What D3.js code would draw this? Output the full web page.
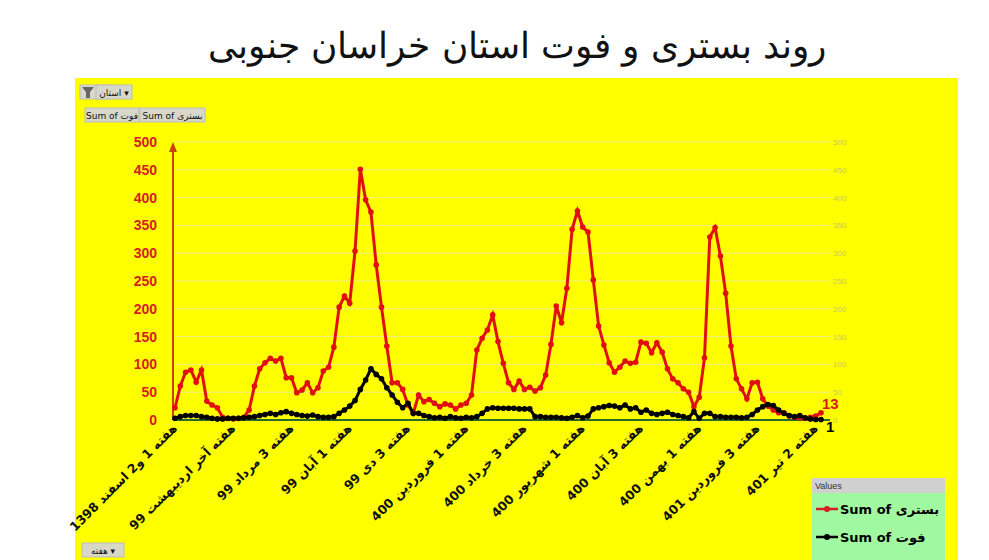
<!DOCTYPE html>
<html><head><meta charset="utf-8">
<script src="https://cdn.jsdelivr.net/npm/d3@7/dist/d3.min.js"></script>
<style>body{margin:0;background:#fff;}</style></head>
<body><svg id="c" width="989" height="560"></svg>
<script>
const title = "روند بستری و فوت استان خراسان جنوبی";
const hospital = [22,61,86,90,68,90,34,27,22,5,3,2,3,5,
18,61,92,103,111,106,111,76,76,49,54,67,49,58,88,95,131,203,223,210,304,451,396,374,279,203,133,67,67,55,27,12,45,33,37,30,24,29,27,20,27,30,45,126,147,162,189,141,102,
67,55,70,55,59,52,58,81,136,205,175,237,343,376,347,338,252,169,135,103,86,95,106,102,104,140,138,121,139,122,92,74,67,56,50,24,41,112,329,346,295,228,133,74,56,38,67,68,38,25,18,13,13,7,5,4,3,5,7,13];
const deaths = [3,6,8,8,8,6,5,3,2,2,3,3,3,4,
5,6,8,10,12,10,13,15,12,10,8,7,9,6,5,5,6,12,18,25,35,55,72,92,82,74,58,45,32,22,30,12,12,8,6,4,5,3,6,4,3,5,4,6,12,20,22,21,21,
21,21,20,20,20,6,6,5,5,5,4,3,5,8,4,7,20,22,24,26,25,22,27,20,22,14,18,12,10,12,14,10,8,6,4,15,3,12,12,6,6,5,5,5,4,5,10,18,24,28,26,18,12,8,6,8,4,2,1,1];
const xLabels = ["هفته 1 و2 اسفند 1398","هفته آخر اردیبهشت 99","هفته 3 مرداد 99","هفته 1 آبان 99","هفته 3 دی 99","هفته 1 فروردین 400","هفته 3 خرداد 400","هفته 1 شهریور 400","هفته 3 آبان 400","هفته 1 بهمن 400","هفته 3 فروردین 401","هفته 2 تیر 401"];
const yTicks = [0,50,100,150,200,250,300,350,400,450,500];

const svg = d3.select("#c");
svg.append("text").attr("x",517).attr("y",58).attr("text-anchor","middle")
  .attr("font-family","DejaVu Serif").attr("font-size",36).attr("fill","#111").text(title);
svg.append("rect").attr("x",75).attr("y",78).attr("width",883).attr("height",482).attr("fill","#ffff00");

const n = hospital.length;
const x = d3.scaleLinear().domain([0,n-1]).range([175,821]);
const y = d3.scaleLinear().domain([0,500]).range([420,142]);

svg.append("g").selectAll("line").data(yTicks.slice(1)).join("line")
  .attr("x1",175).attr("x2",830).attr("y1",d=>y(d)).attr("y2",d=>y(d))
  .attr("stroke","#eeee88").attr("stroke-width",1);
svg.append("g").selectAll("text").data(yTicks).join("text")
  .attr("x",157).attr("y",d=>y(d)+5).attr("text-anchor","end")
  .attr("font-family","Liberation Sans").attr("font-weight","bold").attr("font-size",14)
  .attr("fill","#d42020").text(d=>d);
svg.append("g").selectAll("text").data(yTicks).join("text")
  .attr("x",833).attr("y",d=>y(d)+3).attr("font-family","Liberation Sans").attr("font-size",8)
  .attr("fill","#c8c860").text(d=>d);
svg.append("line").attr("x1",173).attr("x2",173).attr("y1",420).attr("y2",146).attr("stroke","#c84010").attr("stroke-width",2);
svg.append("path").attr("d","M169,152L173,142L177,152Z").attr("fill","#c84010");
svg.append("line").attr("x1",173).attr("x2",830).attr("y1",420).attr("y2",420).attr("stroke","#2a6a2a").attr("stroke-width",2);

const line = d3.line().x((d,i)=>x(i)).y(d=>y(d));
function series(data,color){
  svg.append("path").datum(data).attr("d",line).attr("fill","none").attr("stroke",color).attr("stroke-width",3);
  svg.append("g").selectAll("circle").data(data).join("circle")
    .attr("cx",(d,i)=>x(i)).attr("cy",d=>y(d)).attr("r",2.8).attr("fill",color);
}
series(hospital,"#e01010");
series(deaths,"#000");
svg.append("text").attr("x",822).attr("y",409).attr("font-family","Liberation Sans").attr("font-weight","bold")
  .attr("font-size",15).attr("fill","#d42020").text(hospital[n-1]);
svg.append("text").attr("x",826).attr("y",432).attr("font-family","Liberation Sans").attr("font-weight","bold")
  .attr("font-size",15).attr("fill","#000").text(deaths[n-1]);

svg.append("g").selectAll("text").data(xLabels).join("text")
  .attr("transform",(d,i)=>`translate(${x(i*11)+3},${429}) rotate(-45)`)
  .attr("text-anchor","end").attr("direction","ltr")
  .attr("font-family","DejaVu Sans").attr("font-weight","bold").attr("font-size",12.5)
  .attr("fill","#111").text(d=>d);

function btn(bx,by,w,label){
  svg.append("rect").attr("x",bx).attr("y",by).attr("width",w).attr("height",14).attr("fill","#d8d8c8").attr("stroke","#bbb");
  svg.append("text").attr("x",bx+w/2).attr("y",by+10.5).attr("text-anchor","middle")
    .attr("font-family","DejaVu Sans").attr("font-size",9).attr("fill","#111").text(label);
}
btn(80,85,30,"");
svg.append("path").attr("d","M82,87L94,87L90,92L90,98L86,98L86,92Z").attr("fill","#666");
btn(96,85,36,"استان ▾");
btn(85,108,54,"Sum of فوت");
btn(140,108,65,"Sum of بستری");
btn(82,543,42,"هفته ▾");

svg.append("rect").attr("x",812).attr("y",478).attr("width",133).attr("height",82).attr("fill","#a0f8a0");
svg.append("rect").attr("x",812).attr("y",478).attr("width",133).attr("height",15).attr("fill","#d0d0d0");
svg.append("text").attr("x",815).attr("y",489).attr("font-family","Liberation Sans").attr("font-size",9).attr("fill","#333").text("Values");
const leg = [["Sum of بستری","#d42020"],["Sum of فوت","#000"]];
leg.forEach((l,i)=>{
  const ly = 509 + i*28;
  svg.append("line").attr("x1",816).attr("x2",838).attr("y1",ly).attr("y2",ly).attr("stroke",l[1]).attr("stroke-width",2.5);
  svg.append("circle").attr("cx",827).attr("cy",ly).attr("r",3).attr("fill",l[1]);
  svg.append("text").attr("x",840).attr("y",ly+5).attr("direction","ltr").attr("font-family","DejaVu Sans").attr("font-weight","bold")
    .attr("font-size",13).attr("fill","#000").text(l[0]);
});
</script></body></html>
